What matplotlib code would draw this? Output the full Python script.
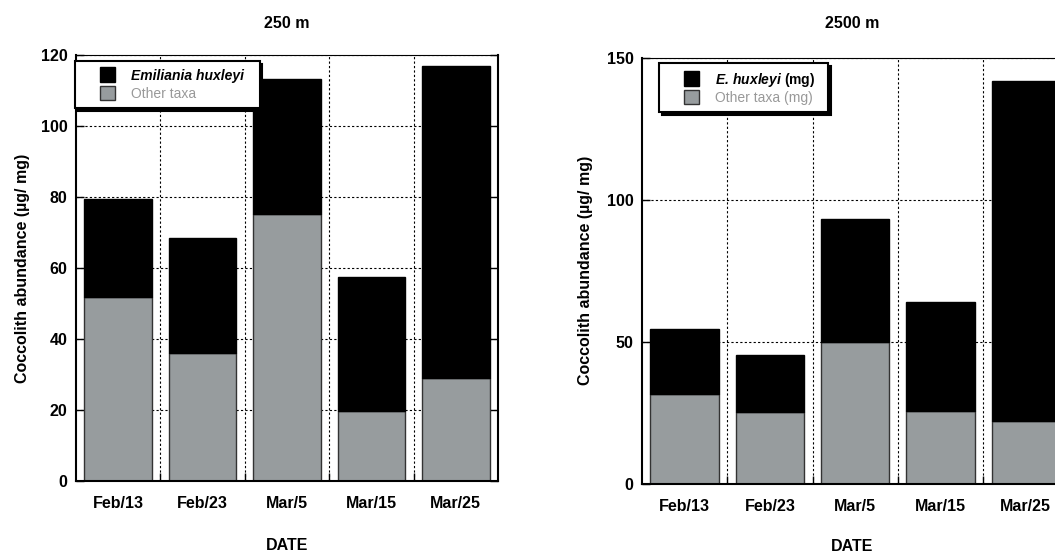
import numpy as np
import matplotlib
matplotlib.use('Agg')
from matplotlib import pyplot as plt
from matplotlib.legend_handler import HandlerPatch

plt.rcParams['font.family'] = ['Liberation Sans', 'DejaVu Sans']
plt.rcParams['mathtext.fontset'] = 'custom'
plt.rcParams['mathtext.rm'] = 'Liberation Sans'
plt.rcParams['mathtext.it'] = 'Liberation Sans:italic'
plt.rcParams['mathtext.bf'] = 'Liberation Sans:bold'
plt.rcParams['mathtext.bfit'] = 'Liberation Sans:bold:italic'

dates = ['Feb/13', 'Feb/23', 'Mar/5', 'Mar/15', 'Mar/25']

# 250 m trap
other_250 = [51.8, 36.1, 75.2, 19.7, 29.0]
total_250 = [79.4, 68.5, 113.2, 57.5, 116.9]
# 2500 m trap
other_2500 = [31.7, 25.3, 50.0, 25.7, 22.2]
total_2500 = [54.5, 45.4, 93.2, 64.0, 141.7]

ehux_250 = np.array(total_250) - np.array(other_250)
ehux_2500 = np.array(total_2500) - np.array(other_2500)

GRAY = '#979c9e'

fig = plt.figure(figsize=(10.55, 5.54), dpi=100)
ax1 = fig.add_axes([0.0720, 0.1318, 0.4000, 0.7689])
ax2 = fig.add_axes([0.6085, 0.1264, 0.4043, 0.7698])


def draw(ax, other, ehux, ymax, yticks):
    x = np.arange(len(dates))
    ax.bar(x, other, width=0.8, color=GRAY, edgecolor='#333333', linewidth=1.0, zorder=2)
    ax.bar(x, ehux, width=0.8, bottom=other, color='black', edgecolor='black', linewidth=1.0, zorder=2)
    ax.set_xlim(-0.5, len(dates) - 0.5)
    ax.set_ylim(0, ymax)
    ax.set_yticks(yticks)
    ax.set_xticks(x)
    ax.set_xticklabels(dates, fontsize=11.5, fontweight='bold')
    ax.set_xticks(np.arange(0.5, len(dates) - 0.5), minor=True)
    for lab in ax.get_yticklabels():
        lab.set_fontweight('bold')
        lab.set_fontsize(11.5)
    ax.tick_params(axis='x', which='major', length=0, pad=11)
    ax.tick_params(axis='x', which='minor', direction='in', length=6, width=1, color='black')
    ax.tick_params(axis='y', direction='in', length=6, width=1, left=True, right=True, pad=6)
    ax.grid(axis='y', which='major', linestyle=(0, (2, 2)), color='black', linewidth=0.8, zorder=0)
    ax.grid(axis='x', which='minor', linestyle=(0, (2, 2)), color='black', linewidth=0.8, zorder=0)
    ax.set_axisbelow(True)
    for s in ['left', 'right', 'bottom']:
        ax.spines[s].set_linewidth(1.5)
    ax.spines['top'].set_linewidth(0.8)
    ax.spines['top'].set_linestyle((0, (2, 1)))
    ax.set_ylabel('Coccolith abundance (µg/ mg)', fontsize=11.5, fontweight='bold')


draw(ax1, other_250, ehux_250, 120, [0, 20, 40, 60, 80, 100, 120])
draw(ax2, other_2500, ehux_2500, 150, [0, 50, 100, 150])
ax1.yaxis.set_label_coords(-0.11, 0.5)
ax2.yaxis.set_label_coords(-0.115, 0.5)

fig.text(0.272, 0.958, '250 m', ha='center', va='center', fontsize=11.5, fontweight='bold')
fig.text(0.808, 0.957, '2500 m', ha='center', va='center', fontsize=11.5, fontweight='bold')
fig.text(0.272, 0.016, 'DATE', ha='center', va='center', fontsize=11.5, fontweight='bold')
fig.text(0.808, 0.013, 'DATE', ha='center', va='center', fontsize=11.5, fontweight='bold')


def square(legend, orig_handle, xdescent, ydescent, width, height, fontsize):
    # square pushed to the right end of the handle box, centred on the text
    s = height * 1.5
    return plt.Rectangle((-xdescent + width - s, -ydescent + height / 2 - s / 2), s, s)


def legend(ax, labels, anchor, spacing):
    h1 = plt.Rectangle((0, 0), 1, 1, facecolor='black', edgecolor='black')
    h2 = plt.Rectangle((0, 0), 1, 1, facecolor=GRAY, edgecolor='#333333')
    leg = ax.legend([h1, h2], labels, loc='upper left', bbox_to_anchor=anchor,
                    bbox_transform=fig.transFigure, fancybox=False,
                    shadow={'color': 'black', 'alpha': 1}, framealpha=1,
                    edgecolor='black', fontsize=10, handlelength=2.3, handleheight=0.7,
                    handletextpad=1.2, labelspacing=spacing, borderpad=0.55,
                    borderaxespad=0, labelcolor=['black', '#999999'],
                    handler_map={plt.Rectangle: HandlerPatch(patch_func=square)})
    leg.get_frame().set_linewidth(1.5)
    leg.set_zorder(5)
    return leg


leg1 = legend(ax1, ['Emiliania huxleyi  ', 'Other taxa'], (0.0711, 0.8899), 0.3)
leg1.get_texts()[0].set_fontweight('bold')
leg1.get_texts()[0].set_fontstyle('italic')

leg2 = legend(ax2, [r'$\mathbfit{E.\,huxleyi}$ (mg)  ', 'Other taxa (mg)'], (0.6246, 0.8863), 0.15)
leg2.get_texts()[0].set_fontweight('bold')

fig.savefig('out.png', dpi=100)
